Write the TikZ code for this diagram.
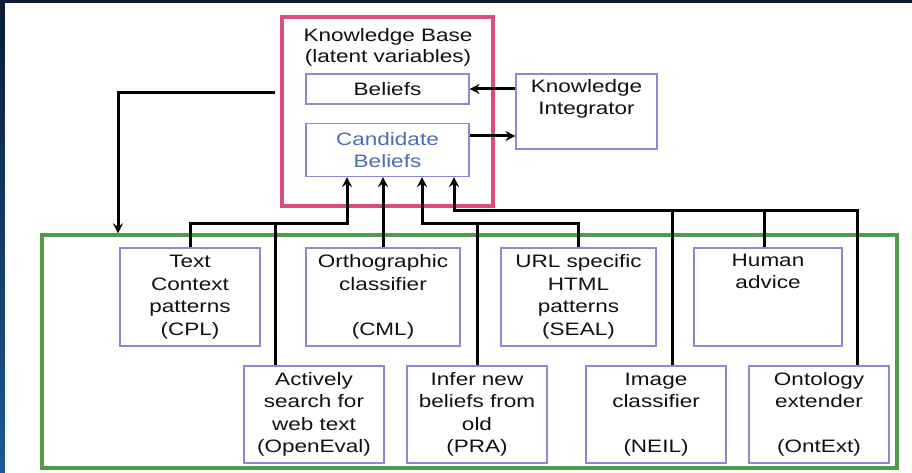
\documentclass[tikz,border=0pt]{standalone}
\usepackage{fontspec}
\setmainfont[FakeStretch=1.25]{Liberation Sans}
\usetikzlibrary{arrows.meta}
\definecolor{slidetop}{HTML}{0C1C33}
\definecolor{slidebot}{HTML}{1D5A94}
\definecolor{kbpink}{HTML}{E04A7C}
\definecolor{modgreen}{HTML}{4E9A48}
\definecolor{boxline}{HTML}{8A8AD0}
\definecolor{candblue}{HTML}{4B6CB7}
\definecolor{ink}{HTML}{111111}
\tikzset{
  txt/.style={font=\fontsize{18}{22.5}\selectfont, text=ink, align=center, inner sep=0pt},
  module/.style={txt, draw=boxline, line width=1.1pt, minimum width=140pt, minimum height=98pt},
  kbitem/.style={txt, draw=boxline, line width=1.1pt, minimum width=163pt},
  frame/.style={draw, line width=3.4pt, inner sep=0pt},
  link/.style={draw=black, line width=3pt},
  arr/.style={link, -{Stealth[length=10pt,width=10pt,inset=3.5pt]}},
}
\begin{document}
\begin{tikzpicture}[x=1pt, y=-1pt]
\useasboundingbox (0,0) rectangle (912,473);
% slide background and white page
\shade[top color=slidetop, bottom color=slidebot] (0,0) rectangle (912,473);
\fill[white] (5,3) rectangle (912,473);

% knowledge base
\node[frame, draw=kbpink, minimum width=211pt, minimum height=189pt] (kb) at (387.5,111.5) {};
\node[txt, font=\fontsize{18}{21}\selectfont] (kbtitle) at (388,47) {Knowledge Base\\(latent variables)};
\node[kbitem, minimum height=30pt] (beliefs) at (387.5,89) {Beliefs};
\node[kbitem, minimum height=53pt, text=candblue] (cand) at (387.5,150) {Candidate\\Beliefs};
\node[txt, draw=boxline, line width=1.1pt, minimum width=141pt, minimum height=75pt] (ki) at (586.5,111.5) {Knowledge\\Integrator\\\strut};

% learning modules
\node[frame, draw=modgreen, minimum width=855pt, minimum height=233pt] (green) at (469.5,351.5) {};
\node[module] (cpl) at (190,297) {Text\\Context\\patterns\\(CPL)};
\node[module, minimum width=154pt] (cml) at (383,297) {Orthographic\\classifier\\\strut\\(CML)};
\node[module, minimum width=155pt] (seal) at (578.5,297) {URL specific\\HTML\\patterns\\(SEAL)};
\node[module, minimum width=148pt] (human) at (768,297) {Human\\advice\\\strut\\\strut};
\node[module, minimum height=97pt] (openeval) at (314,414.5) {Actively\\search for\\web text\\(OpenEval)};
\node[module, minimum height=97pt] (pra) at (477,414.5) {Infer new\\beliefs from\\old\\(PRA)};
\node[module, minimum height=97pt] (neil) at (656,414.5) {Image\\classifier\\\strut\\(NEIL)};
\node[module, minimum height=97pt] (ontext) at (819,414.5) {Ontology\\extender\\\strut\\(OntExt)};

% bus junctions
\coordinate (busA) at (347,223);
\coordinate (oeX) at (275,223);
\coordinate (busB) at (422,223);
\coordinate (busC) at (454,210);
\coordinate (neilX) at (672,210);
\coordinate (humX) at (764,210);
\coordinate (ontX) at (857,210);
\coordinate (kbout) at (275,93);
\coordinate (kbturn) at (118,93);

% integrator links
\draw[arr] (ki.west |- beliefs) -- (beliefs.east);
\draw[arr] (cand.east |- 0,136) -- (ki.west |- 0,136);

% knowledge base feeding the modules
\draw[arr] (kbout) -- (kbturn) -- (kbturn |- green.north);

% modules proposing candidate beliefs
\draw[arr] (cpl.north) |- (busA) -- (busA |- cand.south);
\draw[link] (openeval.north -| oeX) -- (oeX);
\draw[arr] (cml.north) -- (cml.north |- cand.south);
\draw[arr] (seal.north) |- (busB) -- (busB |- cand.south);
\draw[link] (pra.north) -- (pra.north |- busB);
\draw[arr] (ontext.north -| ontX) -- (ontX) -- (busC) -- (busC |- cand.south);
\draw[link] (neil.north -| neilX) -- (neilX);
\draw[link] (human.north -| humX) -- (humX);
\end{tikzpicture}
\end{document}
